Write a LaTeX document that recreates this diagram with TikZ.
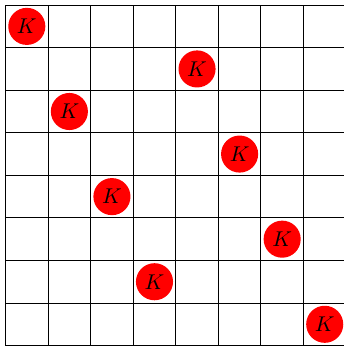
\documentclass[tikz,border=0pt]{standalone}
\usepackage{xcolor}
\begin{document}
\begin{tikzpicture}[x=0.7cm,y=0.7cm,
    kpiece/.style={circle, fill=red, minimum size=0.61cm, inner sep=0pt}]
    \useasboundingbox (-0.13,-0.01) rectangle (7.95,8.12);
    \begin{scope}
        \clip (-0.13,-0.01) rectangle (7.95,8.12);
        \draw[step=0.7cm] (0,0) grid (8,8);
    \end{scope}
    % one K in every row
    \foreach \c [count=\r from 0] in {0,4,1,5,2,6,3,7}
        \node[kpiece] (k\r) at (\c+0.5, 7.5-\r) {$K$};
\end{tikzpicture}
\end{document}
